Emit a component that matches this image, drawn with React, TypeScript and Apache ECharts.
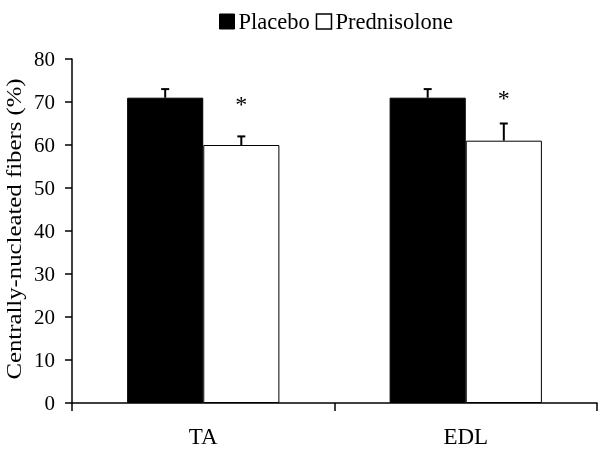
import React, { useEffect, useRef } from "react";
import * as echarts from "echarts";

const categories = ["TA", "EDL"];
const placeboValues = [71, 71];
const placeboErrorTop = [73, 73];
const prednisoloneValues = [60, 61];
const prednisoloneErrorTop = [62, 65];
const asteriskValues = [69.5, 71];
const yTicks = { min: 0, max: 80, interval: 10 };
const yTitle = "Centrally-nucleated fibers (%)";

const FONT = "'Liberation Serif', 'Times New Roman', serif";

export default function App() {
  const ref = useRef<HTMLDivElement>(null);
  useEffect(() => {
    if (!ref.current) return;
    const chart = echarts.init(ref.current, undefined, { renderer: "svg" });

    const makeErr = (vals: number[], tops: number[], sign: number) => ({
      type: "custom",
      silent: true,
      z: 5,
      data: vals.map((v, i) => [i, v, tops[i]]),
      renderItem: (params: any, api: any) => {
        const catW = api.size([1, 0])[0];
        const barW = catW * 0.29;
        const base = api.coord([api.value(0), api.value(1)]);
        const top = api.coord([api.value(0), api.value(2)]);
        const cx = base[0] + (sign * barW) / 2;
        return {
          type: "group",
          children: [
            {
              type: "line",
              shape: { x1: cx, y1: base[1], x2: cx, y2: top[1] },
              style: { stroke: "#000", lineWidth: 2 },
            },
            {
              type: "line",
              shape: { x1: cx - 4, y1: top[1], x2: cx + 4, y2: top[1] },
              style: { stroke: "#000", lineWidth: 2 },
            },
          ],
        };
      },
    });

    chart.setOption({
      animation: false,
      grid: { left: 72, right: 3, top: 59, bottom: 47, containLabel: false },
      legend: {
        top: 5,
        left: 214,
        itemWidth: 15,
        itemHeight: 15,
        itemGap: 6,
        selectedMode: false,
        textStyle: { fontFamily: FONT, fontSize: 22.5, color: "#000", padding: [0, 0, 0, -1] },
        data: [
          { name: "Placebo", icon: "rect", itemStyle: { color: "#000", borderColor: "#000", borderWidth: 1 } },
          { name: "Prednisolone", icon: "rect", itemStyle: { color: "#fff", borderColor: "#000", borderWidth: 1.5 } },
        ],
      },
      graphic: [
        {
          type: "text",
          x: 14,
          y: 229,
          rotation: Math.PI / 2,
          scaleX: 1.18,
          style: {
            text: yTitle,
            fontFamily: FONT,
            fontSize: 21,
            fill: "#000",
            align: "center",
            verticalAlign: "middle",
          },
        },
      ],
      xAxis: {
        type: "category",
        data: categories,
        axisLine: { lineStyle: { color: "#000", width: 1.5 } },
        axisTick: { show: true, length: 8, lineStyle: { color: "#000", width: 1.5 } },
        axisLabel: { fontFamily: FONT, fontSize: 23, color: "#000", margin: 22 },
      },
      yAxis: {
        type: "value",
        min: yTicks.min,
        max: yTicks.max,
        interval: yTicks.interval,
        axisLine: { show: true, lineStyle: { color: "#000", width: 1.5 } },
        axisTick: { show: true, length: 7, lineStyle: { color: "#000", width: 1.5 } },
        splitLine: { show: false },
        axisLabel: { fontFamily: FONT, fontSize: 21, color: "#000", margin: 17 },
      },
      series: [
        {
          name: "Placebo",
          type: "bar",
          data: placeboValues,
          barGap: "0%",
          barCategoryGap: "42%",
          itemStyle: { color: "#000", borderColor: "#000", borderWidth: 1 },
        },
        {
          name: "Prednisolone",
          type: "bar",
          data: prednisoloneValues,
          barGap: "0%",
          barCategoryGap: "42%",
          itemStyle: { color: "#fff", borderColor: "#000", borderWidth: 1 },
        },
        makeErr(placeboValues, placeboErrorTop, -1),
        makeErr(prednisoloneValues, prednisoloneErrorTop, 1),
        {
          type: "custom",
          silent: true,
          z: 6,
          data: asteriskValues.map((v, i) => [i, v]),
          renderItem: (params: any, api: any) => {
            const catW = api.size([1, 0])[0];
            const barW = catW * 0.29;
            const p = api.coord([api.value(0), api.value(1)]);
            return {
              type: "text",
              x: p[0] + barW / 2,
              y: p[1],
              style: {
                text: "*",
                fontFamily: FONT,
                fontSize: 24,
                fill: "#000",
                align: "center",
                verticalAlign: "middle",
              },
            };
          },
        },
      ],
    });
    return () => chart.dispose();
  }, []);
  return (
    <div
      ref={ref}
      style={{ position: "fixed", left: 0, top: 0, width: 600, height: 450 }}
    />
  );
}
